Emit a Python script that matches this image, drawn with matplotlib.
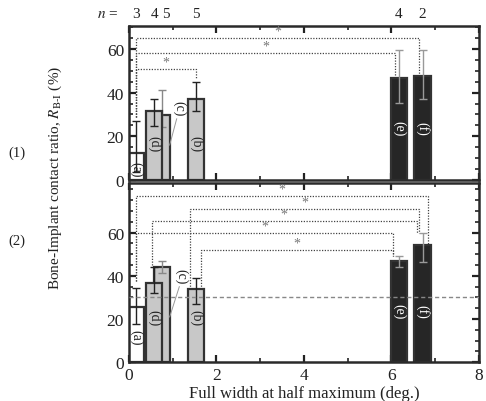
#!/usr/bin/env python3
"""
plot.py - bone-implant contact ratio vs FWHM, two panels
"""

import matplotlib
matplotlib.use("Agg")
import matplotlib.pyplot as plt
from matplotlib.ticker import MultipleLocator, FixedLocator
from matplotlib.transforms import blended_transform_factory

plt.rcParams['font.family'] = ['Liberation Serif', 'DejaVu Serif']
plt.rcParams['mathtext.fontset'] = 'stix'

# bars: (a) (d) (c) (b) (e) (f)
labels = ['(a)', '(d)', '(c)', '(b)', '(e)', '(f)']
fwhm = [0.16, 0.575, 0.76, 1.53, 6.17, 6.71]
n_counts = ['3', '4', '5', '5', '4', '2']

ratio_1 = [12.3, 31.8, 29.7, 37.2, 46.5, 47.4]
err_lo_1 = [8.5, 7.2, 5.4, 5.4, 11.3, 10.2]
err_hi_1 = [14.6, 5.4, 11.4, 7.6, 13.2, 12.3]

ratio_2 = [25.8, 36.8, 44.2, 33.8, 46.8, 54.2]
err_lo_2 = [8.1, 4.5, 3.0, 7.0, 2.5, 7.7]
err_hi_2 = [8.8, 7.4, 2.7, 5.4, 2.6, 5.5]

threshold = 30

# significance brackets: x left, x right, height, left foot, right foot
brackets_1 = [
    (0.16, 1.53, 50.8, 29, 46.9),
    (0.16, 6.08, 58.0, 29, 47.0),
    (0.16, 6.64, 65.0, 29, 47.7),
]
brackets_2 = [
    (0.16, 6.84, 76.9, 37.7, 54.6),
    (1.40, 6.64, 71.1, 33.8, 60.0),
    (0.52, 6.58, 65.4, 45.0, 60.0),
    (0.16, 6.04, 59.7, 37.7, 49.4),
    (1.64, 6.04, 52.0, 33.8, 49.4),
]

BAR_COLORS = ['white', '#c8c8c8', '#c8c8c8', '#c8c8c8', '#262626', '#262626']
ERR_COLORS = ['#222222', '#222222', '#888888', '#222222', '#999999', '#999999']
TXT_COLORS = ['#222222', '#222222', '#222222', '#222222', 'white', 'white']
WIDTH = 0.37


def draw_panel(ax, vals, lo, hi, brackets, label_y, c_label, c_tip, ylim):
    order = [0, 2, 1, 3, 4, 5]  # (c) goes behind (d)
    for k, i in enumerate(order):
        ax.bar(fwhm[i], vals[i], width=WIDTH, color=BAR_COLORS[i],
               edgecolor='#333333', linewidth=1.6, zorder=2 + k * 0.1)
        ax.errorbar(fwhm[i], vals[i], yerr=[[lo[i]], [hi[i]]], fmt='none',
                    ecolor=ERR_COLORS[i], elinewidth=1.0, capsize=3,
                    capthick=1.0, zorder=2.05 + k * 0.1)
    for i in [0, 1, 3, 4, 5]:
        ax.text(fwhm[i], label_y[i], labels[i], rotation=-90, ha='center',
                va='center', fontsize=10, color=TXT_COLORS[i], zorder=5)
    ax.text(c_label[0], c_label[1], labels[2], rotation=-90, ha='center',
            va='center', fontsize=10, color='#222222', zorder=5)
    ax.plot([c_label[0] - 0.05, c_tip[0]], [c_label[1] - 5, c_tip[1]],
            color='#999999', lw=0.7, zorder=5)

    for x0, x1, h, f0, f1 in brackets:
        ax.plot([x0, x0, x1, x1], [f0, h, h, f1], color='#444444',
                ls=(0, (1, 1.2)), lw=0.9, zorder=1)
        ax.text((x0 + x1) / 2, h + 0.2, '*', ha='center', va='bottom',
                fontsize=10, color='#777777')

    ax.set_xlim(0, 8)
    ax.set_ylim(*ylim)
    ax.xaxis.set_major_locator(MultipleLocator(2))
    ax.xaxis.set_minor_locator(MultipleLocator(1))
    ax.yaxis.set_major_locator(FixedLocator([0, 20, 40, 60]))
    ax.yaxis.set_minor_locator(MultipleLocator(5))
    ax.tick_params(which='both', direction='in', top=True, right=True,
                   labelsize=12.5, colors='#222222')
    ax.tick_params(which='major', length=5, width=1.6)
    ax.tick_params(which='minor', length=3, width=1.2)
    for sp in ax.spines.values():
        sp.set_linewidth(1.8)
        sp.set_color('#2a2a2a')


def main():
    fig = plt.figure(figsize=(4.86, 4.02), dpi=100)
    ax1 = fig.add_axes([0.2654, 0.5498, 0.7202, 0.383])
    ax2 = fig.add_axes([0.2654, 0.0963, 0.7202, 0.446])

    draw_panel(ax1, ratio_1, err_lo_1, err_hi_1, brackets_1,
               [5, 17, 0, 17, 24, 24], (1.14, 33), (0.93, 16), (0, 70.5))
    draw_panel(ax2, ratio_2, err_lo_2, err_hi_2, brackets_2,
               [12, 21, 0, 21, 24, 24], (1.2, 40), (0.93, 21), (0, 83))
    ax2.axhline(threshold, color='#888888', ls=(0, (3, 2)), lw=1.0, zorder=4)

    ax1.tick_params(labelbottom=False)
    ax2.set_xlabel('Full width at half maximum (deg.)', fontsize=12,
                   color='#222222', labelpad=1)

    # sample sizes above the top panel
    trans = blended_transform_factory(ax1.transData, ax1.transAxes)
    for x, n in zip(fwhm, n_counts):
        xt = x if n != '5' or x > 1 else 0.84
        ax1.text(xt, 1.08, n, transform=trans, ha='center', va='center',
                 fontsize=11, color='#222222')
    ax1.text(-0.25, 1.08, r'$n$ =', transform=trans, ha='right',
             va='center', fontsize=11, color='#222222')

    fig.text(0.113, 0.557, r'Bone-Implant contact ratio, $R_{\mathrm{B\text{-}I}}$ (%)',
             rotation=90, ha='center', va='center', fontsize=11, color='#222222')
    fig.text(0.035, 0.62, '(1)', ha='center', va='center', fontsize=10.5,
             color='#222222')
    fig.text(0.035, 0.40, '(2)', ha='center', va='center', fontsize=10.5,
             color='#222222')

    fig.savefig('out.png', dpi=100)


if __name__ == '__main__':
    main()
